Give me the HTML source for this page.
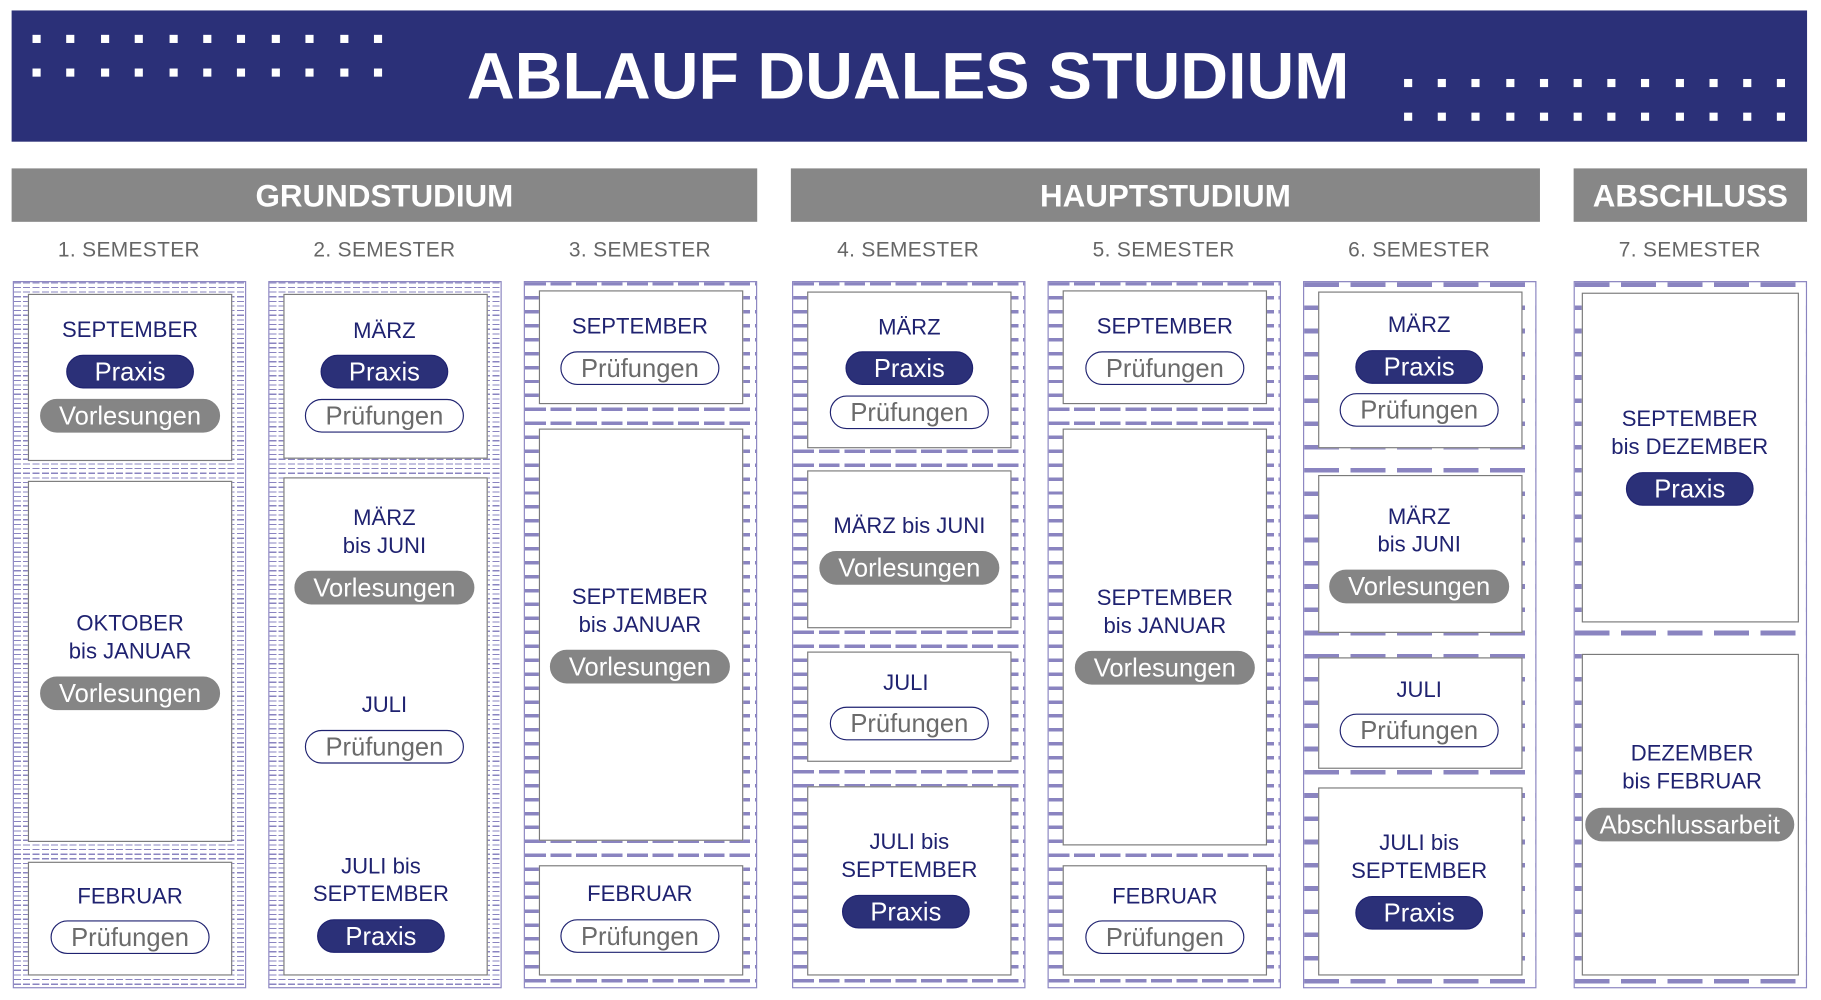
<!DOCTYPE html>
<html><head><meta charset="utf-8"><style>
*{margin:0;padding:0;box-sizing:border-box}
html,body{width:1821px;height:1000px;overflow:hidden;background:#fff}
#w{position:absolute;left:0;top:0;width:1568px;height:861px;transform:scale(1.16135);transform-origin:0 0;font-family:"Liberation Sans","DejaVu Sans",sans-serif}
.a{position:absolute}
.hdr{left:10px;top:9px;width:1546px;height:113px;background:#2b3078}
.title{left:0;width:1564px;top:33px;text-align:center;color:#fff;font-weight:bold;font-size:57px;letter-spacing:0px}
.dot{position:absolute;width:7px;height:7px;background:#fff}
.sec{top:145px;height:46px;background:#878787;color:#fff;font-size:27px;font-weight:bold;text-align:center;line-height:48px}
.sem{top:205px;font-size:18px;color:#666;text-align:center;width:200px;letter-spacing:.3px}
.col{top:242px;height:609px;width:201px;border:1.5px solid #8a84c0}
.f{background:repeating-linear-gradient(to right,transparent 0 6px,#fff 6px 8px),repeating-linear-gradient(to bottom,#8a84c0 0 1px,#fff 1px 4px)}
.m{background:repeating-linear-gradient(to right,transparent 0 18px,#fff 18px 22px),repeating-linear-gradient(to bottom,#8a84c0 0 3px,#fff 3px 12px)}
.c{background:repeating-linear-gradient(to right,transparent 0 30px,#fff 30px 40px),repeating-linear-gradient(to bottom,#8a84c0 0 4px,#fff 4px 20px)}
.card{position:absolute;background:#fff;border:1.5px solid #7a7a7a}
.t{position:absolute;transform:translate(-50%,-50%);white-space:nowrap;text-align:center;color:#1f2270;font-size:19px;line-height:24px}
.p{position:absolute;transform:translate(-50%,-50%);white-space:nowrap;text-align:center;font-size:22px;height:29px;line-height:27px;border-radius:15px;border:1.5px solid #1f2270}
.px{background:#2b3078;color:#fff;width:110px}
.pr{background:#fff;color:#6b6b6b;width:137px}
.vo{background:#858585;color:#fff;border-color:#858585;width:155px}
.ab{background:#858585;color:#fff;border-color:#858585;width:180px}
</style></head><body><div id="w">
<div class="a hdr"></div>
<div class="a title">ABLAUF DUALES STUDIUM</div>
<div id="dots"></div>
<div class="a sec" style="left:10px;width:642px">GRUNDSTUDIUM</div>
<div class="a sec" style="left:681px;width:645px">HAUPTSTUDIUM</div>
<div class="a sec" style="left:1355px;width:201px">ABSCHLUSS</div>
<div class="a sem" style="left:11px">1. SEMESTER</div>
<div class="a sem" style="left:231px">2. SEMESTER</div>
<div class="a sem" style="left:451px">3. SEMESTER</div>
<div class="a sem" style="left:682px">4. SEMESTER</div>
<div class="a sem" style="left:902px">5. SEMESTER</div>
<div class="a sem" style="left:1122px">6. SEMESTER</div>
<div class="a sem" style="left:1355px">7. SEMESTER</div>

<div class="a col f" style="left:11px"></div>
<div class="a col f" style="left:231px"></div>
<div class="a col m" style="left:451px"></div>
<div class="a col m" style="left:682px"></div>
<div class="a col m" style="left:902px"></div>
<div class="a col c" style="left:1122px"></div>
<div class="a col c" style="left:1355px"></div>

<!-- col1 -->
<div class="card" style="left:24px;width:176px;top:253px;height:144px"></div>
<div class="card" style="left:24px;width:176px;top:414px;height:311px"></div>
<div class="card" style="left:24px;width:176px;top:742px;height:98px"></div>
<div class="t" style="left:112px;top:285px">SEPTEMBER</div>
<div class="p px" style="left:112px;top:320px">Praxis</div>
<div class="p vo" style="left:112px;top:358px">Vorlesungen</div>
<div class="t" style="left:112px;top:550px">OKTOBER<br>bis JANUAR</div>
<div class="p vo" style="left:112px;top:597px">Vorlesungen</div>
<div class="t" style="left:112px;top:773px">FEBRUAR</div>
<div class="p pr" style="left:112px;top:807px">Prüfungen</div>
<!-- col2 -->
<div class="card" style="left:244px;width:176px;top:253px;height:142px"></div>
<div class="card" style="left:244px;width:176px;top:411px;height:429px"></div>
<div class="t" style="left:331px;top:286px">MÄRZ</div>
<div class="p px" style="left:331px;top:320px">Praxis</div>
<div class="p pr" style="left:331px;top:358px">Prüfungen</div>
<div class="t" style="left:331px;top:459px">MÄRZ<br>bis JUNI</div>
<div class="p vo" style="left:331px;top:506px">Vorlesungen</div>
<div class="t" style="left:331px;top:608px">JULI</div>
<div class="p pr" style="left:331px;top:643px">Prüfungen</div>
<div class="t" style="left:328px;top:759px">JULI bis<br>SEPTEMBER</div>
<div class="p px" style="left:328px;top:806px">Praxis</div>
<!-- col3 -->
<div class="card" style="left:464px;width:176px;top:250px;height:98px"></div>
<div class="card" style="left:464px;width:176px;top:369px;height:355px"></div>
<div class="card" style="left:464px;width:176px;top:745px;height:95px"></div>
<div class="t" style="left:551px;top:282px">SEPTEMBER</div>
<div class="p pr" style="left:551px;top:317px">Prüfungen</div>
<div class="t" style="left:551px;top:527px">SEPTEMBER<br>bis JANUAR</div>
<div class="p vo" style="left:551px;top:574px">Vorlesungen</div>
<div class="t" style="left:551px;top:771px">FEBRUAR</div>
<div class="p pr" style="left:551px;top:806px">Prüfungen</div>
<!-- col4 -->
<div class="card" style="left:695px;width:176px;top:251px;height:135px"></div>
<div class="card" style="left:695px;width:176px;top:405px;height:136px"></div>
<div class="card" style="left:695px;width:176px;top:561px;height:95px"></div>
<div class="card" style="left:695px;width:176px;top:677px;height:163px"></div>
<div class="t" style="left:783px;top:283px">MÄRZ</div>
<div class="p px" style="left:783px;top:317px">Praxis</div>
<div class="p pr" style="left:783px;top:355px">Prüfungen</div>
<div class="t" style="left:783px;top:454px">MÄRZ bis JUNI</div>
<div class="p vo" style="left:783px;top:489px">Vorlesungen</div>
<div class="t" style="left:780px;top:589px">JULI</div>
<div class="p pr" style="left:783px;top:623px">Prüfungen</div>
<div class="t" style="left:783px;top:738px">JULI bis<br>SEPTEMBER</div>
<div class="p px" style="left:780px;top:785px">Praxis</div>
<!-- col5 -->
<div class="card" style="left:915px;width:176px;top:250px;height:98px"></div>
<div class="card" style="left:915px;width:176px;top:369px;height:359px"></div>
<div class="card" style="left:915px;width:176px;top:745px;height:95px"></div>
<div class="t" style="left:1003px;top:282px">SEPTEMBER</div>
<div class="p pr" style="left:1003px;top:317px">Prüfungen</div>
<div class="t" style="left:1003px;top:528px">SEPTEMBER<br>bis JANUAR</div>
<div class="p vo" style="left:1003px;top:575px">Vorlesungen</div>
<div class="t" style="left:1003px;top:773px">FEBRUAR</div>
<div class="p pr" style="left:1003px;top:807px">Prüfungen</div>
<!-- col6 -->
<div class="card" style="left:1135px;width:176px;top:251px;height:135px"></div>
<div class="card" style="left:1135px;width:176px;top:409px;height:136px"></div>
<div class="card" style="left:1135px;width:176px;top:566px;height:96px"></div>
<div class="card" style="left:1135px;width:176px;top:678px;height:162px"></div>
<div class="t" style="left:1222px;top:281px">MÄRZ</div>
<div class="p px" style="left:1222px;top:316px">Praxis</div>
<div class="p pr" style="left:1222px;top:353px">Prüfungen</div>
<div class="t" style="left:1222px;top:458px">MÄRZ<br>bis JUNI</div>
<div class="p vo" style="left:1222px;top:505px">Vorlesungen</div>
<div class="t" style="left:1222px;top:595px">JULI</div>
<div class="p pr" style="left:1222px;top:629px">Prüfungen</div>
<div class="t" style="left:1222px;top:739px">JULI bis<br>SEPTEMBER</div>
<div class="p px" style="left:1222px;top:786px">Praxis</div>
<!-- col7 -->
<div class="card" style="left:1362px;width:187px;top:252px;height:284px"></div>
<div class="card" style="left:1362px;width:187px;top:563px;height:277px"></div>
<div class="t" style="left:1455px;top:374px">SEPTEMBER<br>bis DEZEMBER</div>
<div class="p px" style="left:1455px;top:421px">Praxis</div>
<div class="t" style="left:1457px;top:662px">DEZEMBER<br>bis FEBRUAR</div>
<div class="p ab" style="left:1455px;top:710px">Abschlussarbeit</div>
</div>
<script>
var d=document.getElementById('dots'),h='';
for(var r=0;r<2;r++){for(var i=0;i<11;i++)h+='<div class="dot" style="left:'+(28+i*29.4)+'px;top:'+(30+r*29)+'px"></div>';
for(var i=0;i<12;i++)h+='<div class="dot" style="left:'+(1209+i*29.2)+'px;top:'+(68+r*29)+'px"></div>';}
d.innerHTML=h;
</script>
</body></html>
